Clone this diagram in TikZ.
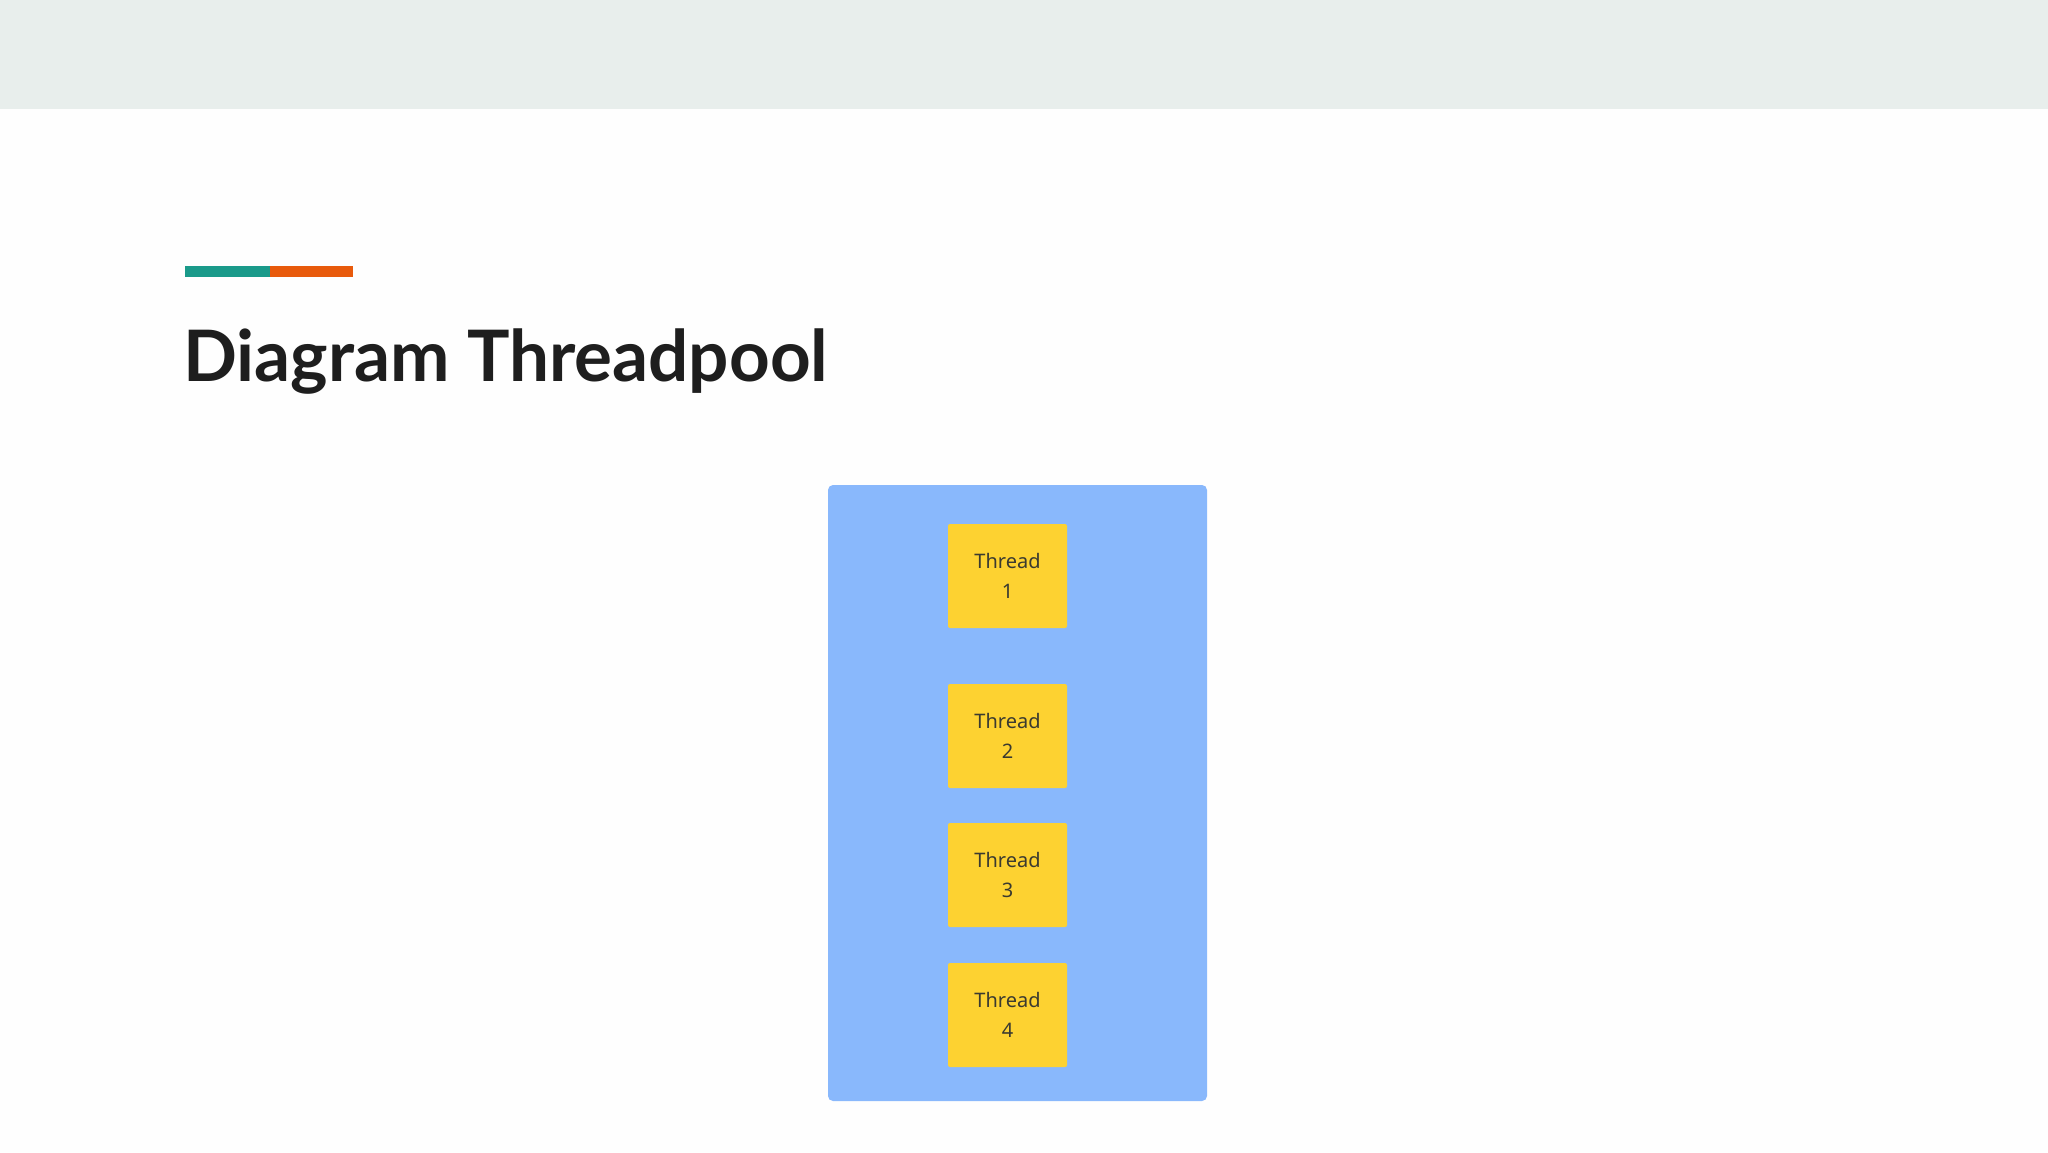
\documentclass[tikz,border=0pt]{standalone}
\usepackage{fontspec}
\setmainfont{Lato}
\newfontfamily\threadfont{Noto Sans}
\definecolor{pagebg}{HTML}{FEFEFE}
\definecolor{topbar}{HTML}{E8EEEC}
\definecolor{teal}{HTML}{1A9A8A}
\definecolor{accentorange}{HTML}{E85A0C}
\definecolor{poolblue}{HTML}{89B8FC}
\definecolor{threadyellow}{HTML}{FDD231}
\definecolor{titlegray}{HTML}{1E1E1E}
\definecolor{textgray}{HTML}{3A3A30}
\tikzset{
  threadbox/.style={fill=threadyellow, draw=none, rounded corners=2pt,
    minimum width=119pt, minimum height=104pt, inner sep=0pt,
    align=center, font=\threadfont\fontsize{20}{30}\selectfont, text=textgray},
  poolbox/.style={fill=poolblue, draw=none, rounded corners=5pt}
}
\begin{document}
\begin{tikzpicture}[x=1pt,y=-1pt]
\useasboundingbox (0,0) rectangle (2048,1152);
\fill[pagebg] (0,0) rectangle (2048,1152);
\fill[topbar] (0,0) rectangle (2048,109);
\fill[teal] (185,266) rectangle (270,277);
\fill[accentorange] (270,266) rectangle (353,277);
\node[anchor=base west, inner sep=0pt, text=titlegray,
  font=\fontsize{71}{85}\selectfont\bfseries] (title) at (183,381) {Diagram Threadpool};
\path[poolbox] (828,485) rectangle (1207,1101);
\coordinate (pool) at (1017.5,793);
\node[threadbox] (t1) at (1007.5,576) {Thread\\1};
\node[threadbox] (t2) at (1007.5,736) {Thread\\2};
\node[threadbox] (t3) at (1007.5,875) {Thread\\3};
\node[threadbox] (t4) at (1007.5,1015) {Thread\\4};
\end{tikzpicture}
\end{document}
